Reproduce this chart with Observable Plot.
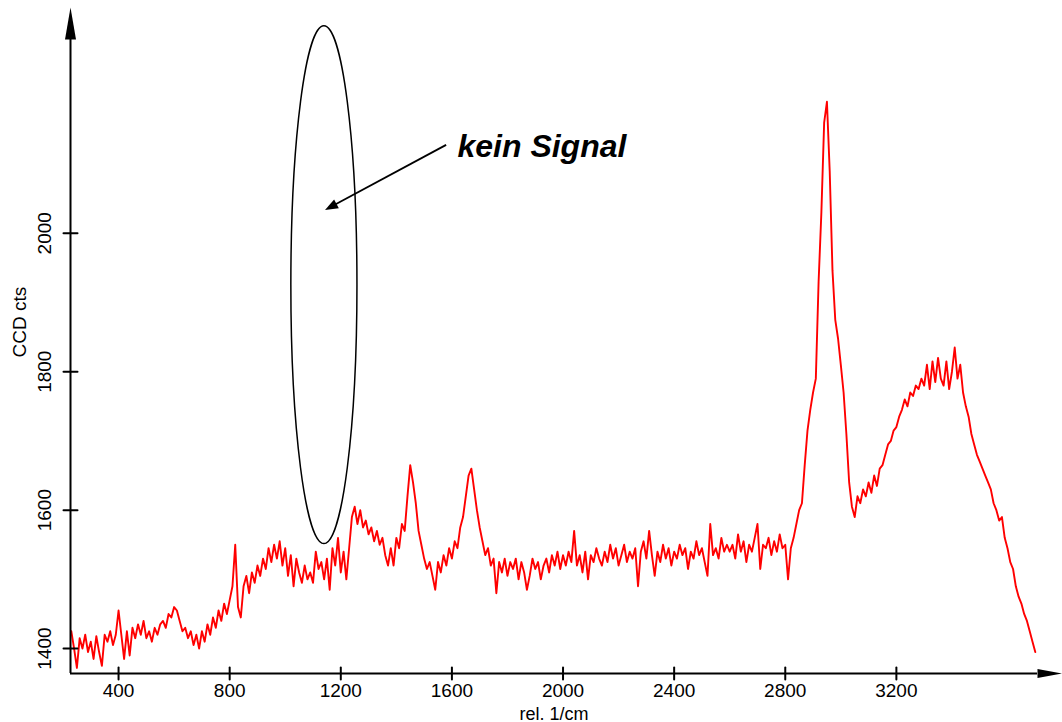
<!DOCTYPE html>
<html><head><meta charset="utf-8">
<script src="https://cdn.jsdelivr.net/npm/d3@7"></script>
<script src="https://cdn.jsdelivr.net/npm/@observablehq/plot@0.6"></script>
<style>body{margin:0;background:#fff} #chart svg{display:block}</style>
</head><body><div id="chart"></div>
<script>
// Raman shift (rel. 1/cm)
const wavenumber = [
  230,240,250,260,270,280,290,
  300,310,320,330,340,350,360,370,380,390,
  400,410,420,430,440,450,460,470,480,490,
  500,510,520,530,540,550,560,570,580,590,
  600,610,620,630,640,650,660,670,680,690,
  700,710,720,730,740,750,760,770,780,790,
  800,810,820,830,840,850,860,870,880,890,
  900,910,920,930,940,950,960,970,980,990,
  1000,1010,1020,1030,1040,1050,1060,1070,1080,1090,
  1100,1110,1120,1130,1140,1150,1160,1170,1180,1190,
  1200,1210,1220,1230,1240,1250,1260,1270,1280,1290,
  1300,1310,1320,1330,1340,1350,1360,1370,1380,1390,
  1400,1410,1420,1430,1440,1450,1460,1470,1480,1490,
  1500,1510,1520,1530,1540,1550,1560,1570,1580,1590,
  1600,1610,1620,1630,1640,1650,1660,1670,1680,1690,
  1700,1710,1720,1730,1740,1750,1760,1770,1780,1790,
  1800,1810,1820,1830,1840,1850,1860,1870,1880,1890,
  1900,1910,1920,1930,1940,1950,1960,1970,1980,1990,
  2000,2010,2020,2030,2040,2050,2060,2070,2080,2090,
  2100,2110,2120,2130,2140,2150,2160,2170,2180,2190,
  2200,2210,2220,2230,2240,2250,2260,2270,2280,2290,
  2300,2310,2320,2330,2340,2350,2360,2370,2380,2390,
  2400,2410,2420,2430,2440,2450,2460,2470,2480,2490,
  2500,2510,2520,2530,2540,2550,2560,2570,2580,2590,
  2600,2610,2620,2630,2640,2650,2660,2670,2680,2690,
  2700,2710,2720,2730,2740,2750,2760,2770,2780,2790,
  2800,2810,2820,2830,2840,2850,2860,2870,2880,2890,
  2900,2910,2920,2930,2940,2950,2960,2970,2980,2990,
  3000,3010,3020,3030,3040,3050,3060,3070,3080,3090,
  3100,3110,3120,3130,3140,3150,3160,3170,3180,3190,
  3200,3210,3220,3230,3240,3250,3260,3270,3280,3290,
  3300,3310,3320,3330,3340,3350,3360,3370,3380,3390,
  3400,3410,3420,3430,3440,3450,3460,3470,3480,3490,
  3500,3510,3520,3530,3540,3550,3560,3570,3580,3590,
  3600,3610,3620,3630,3640,3650,3660,3670,3680,3690,
  3700
];
// CCD counts
const counts = [
  1425,1400,1372,1415,1400,1420,1395,
  1410,1385,1418,1395,1375,1420,1410,1425,1405,1420,
  1455,1420,1385,1425,1390,1430,1415,1435,1420,1440,
  1415,1425,1410,1430,1420,1435,1440,1430,1450,1445,
  1460,1455,1440,1425,1430,1415,1425,1405,1420,1400,
  1425,1410,1435,1420,1445,1430,1455,1440,1465,1450,
  1470,1490,1550,1460,1445,1490,1505,1480,1510,1495,
  1520,1505,1530,1515,1545,1525,1550,1530,1555,1520,
  1545,1505,1535,1490,1530,1510,1495,1520,1500,1510,
  1495,1540,1515,1525,1500,1530,1485,1545,1520,1560,
  1510,1540,1500,1545,1590,1605,1580,1600,1575,1585,
  1565,1575,1555,1570,1550,1560,1535,1520,1545,1520,
  1560,1545,1580,1570,1620,1665,1640,1610,1570,1550,
  1530,1515,1525,1505,1485,1525,1510,1535,1520,1545,
  1530,1555,1545,1575,1590,1620,1650,1660,1630,1600,
  1575,1555,1535,1545,1520,1530,1480,1525,1510,1530,
  1505,1525,1515,1530,1500,1525,1510,1485,1505,1530,
  1515,1525,1500,1520,1530,1510,1535,1520,1540,1515,
  1535,1520,1540,1525,1570,1520,1535,1510,1540,1500,
  1535,1525,1545,1530,1520,1540,1525,1550,1530,1545,
  1520,1535,1550,1525,1540,1530,1545,1490,1540,1555,
  1530,1570,1535,1505,1540,1525,1550,1530,1545,1520,
  1540,1530,1550,1535,1545,1515,1540,1530,1555,1535,
  1545,1525,1505,1580,1535,1545,1530,1560,1540,1550,
  1540,1550,1530,1565,1540,1555,1525,1550,1540,1560,
  1580,1515,1550,1545,1560,1535,1555,1540,1565,1545,
  1550,1500,1545,1560,1580,1600,1610,1665,1715,1745,
  1770,1790,1930,2030,2160,2190,2090,1946,1875,1848,
  1810,1770,1710,1640,1605,1590,1620,1610,1630,1620,
  1640,1625,1650,1635,1660,1665,1680,1695,1700,1715,
  1720,1735,1745,1760,1750,1770,1765,1780,1775,1790,
  1780,1810,1775,1815,1785,1820,1790,1780,1815,1775,
  1800,1835,1790,1810,1770,1750,1735,1710,1695,1680,
  1670,1660,1650,1640,1630,1610,1600,1585,1590,1560,
  1545,1525,1515,1490,1475,1465,1450,1440,1425,1410,
  1395
];
const xTicks = [400, 800, 1200, 1600, 2000, 2400, 2800, 3200];
const yTicks = [1400, 1600, 1800, 2000];
const xDomain = [227, 3708];
const yDomain = [1364, 2280];
const xLabel = "rel. 1/cm";
const yLabel = "CCD cts";
const notes = [{x: 1620, y: 2110, label: "kein Signal"}];
const ellipseNote = {cx: 1141, cy: 1925, rx: 119, ry: 374};
const pointerNote = {x1: 1581, y1: 2127, x2: 1145, y2: 2033};

const spectrum = wavenumber.map((x, i) => ({x, y: counts[i]}));
const font = "'Liberation Sans', Arial, Helvetica, sans-serif";
const plain = d => String(d);

const crossTick = {draw(ctx, l) { ctx.moveTo(0, -l / 2); ctx.lineTo(0, l / 2); }};
const headUp = {draw(ctx) { ctx.moveTo(0, -32); ctx.lineTo(5.5, 0); ctx.lineTo(-5.5, 0); ctx.closePath(); }};
const headRight = {draw(ctx) { ctx.moveTo(0, -25); ctx.lineTo(4.5, 0); ctx.lineTo(-4.5, 0); ctx.closePath(); }};

function annotations(index, scales) {
  const {x, y} = scales;
  const g = d3.create("svg:g");
  const cx = x(ellipseNote.cx), cy = y(ellipseNote.cy);
  const rx = Math.abs(x(ellipseNote.cx + ellipseNote.rx) - cx);
  const ry = Math.abs(y(ellipseNote.cy + ellipseNote.ry) - cy);
  g.append("ellipse").attr("cx", cx).attr("cy", cy).attr("rx", rx).attr("ry", ry)
    .attr("fill", "none").attr("stroke", "#000").attr("stroke-width", 1.5);
  const X1 = x(pointerNote.x1), Y1 = y(pointerNote.y1), X2 = x(pointerNote.x2), Y2 = y(pointerNote.y2);
  const len = Math.hypot(X2 - X1, Y2 - Y1), ux = (X2 - X1) / len, uy = (Y2 - Y1) / len;
  const hl = 13, hw = 5;
  const bx = X2 - ux * hl, by = Y2 - uy * hl;
  g.append("line").attr("x1", X1).attr("y1", Y1).attr("x2", bx + ux * 2).attr("y2", by + uy * 2)
    .attr("stroke", "#000").attr("stroke-width", 1.8);
  g.append("path").attr("d", `M${X2},${Y2}L${bx - uy * hw},${by + ux * hw}L${bx + uy * hw},${by - ux * hw}Z`)
    .attr("fill", "#000");
  return g.node();
}

const chart = Plot.plot({
  width: 1062,
  height: 722,
  marginLeft: 70,
  marginRight: 25,
  marginTop: 39,
  marginBottom: 49,
  style: {fontFamily: font, fontSize: "18px", background: "#fff", color: "#000", overflow: "visible"},
  x: {domain: xDomain},
  y: {domain: yDomain},
  marks: [
    Plot.line(spectrum, {x: "x", y: "y", stroke: "#ff0000", strokeWidth: 1.9}),
    Plot.ruleX([xDomain[0]], {stroke: "#000", strokeWidth: 2}),
    Plot.ruleY([yDomain[0]], {stroke: "#000", strokeWidth: 2}),
    Plot.dot([{x: xDomain[0], y: yDomain[1]}], {x: "x", y: "y", symbol: headUp, fill: "#000", stroke: null}),
    Plot.dot([{x: xDomain[1], y: yDomain[0]}], {x: "x", y: "y", symbol: headRight, rotate: 90, fill: "#000", stroke: null}),
    Plot.vector(xTicks, {x: d => d, frameAnchor: "bottom", length: 12, rotate: 0, anchor: "start", shape: crossTick, stroke: "#000", strokeWidth: 2}),
    Plot.vector(yTicks, {y: d => d, frameAnchor: "left", length: 14, rotate: 90, anchor: "start", shape: crossTick, stroke: "#000", strokeWidth: 2}),
    Plot.axisX({ticks: xTicks, tickFormat: plain, tickSize: 0, tickPadding: 10, fontSize: 19, label: null}),
    Plot.axisY({ticks: yTicks, tickFormat: plain, tickSize: 0, tickPadding: 20, tickRotate: -90, fontSize: 19, label: null}),
    Plot.text([xLabel], {text: d => d, frameAnchor: "bottom", dy: 46, lineAnchor: "bottom", fontSize: 18}),
    Plot.text([yLabel], {text: d => d, frameAnchor: "left", rotate: -90, dx: -45, dy: 1, lineAnchor: "bottom", fontSize: 19}),
    Plot.text(notes, {x: "x", y: "y", text: "label", textAnchor: "start", lineAnchor: "bottom", fontSize: 32, fontWeight: "bold", fontStyle: "italic"}),
    annotations
  ]
});
document.getElementById("chart").append(chart);
</script>
</body></html>
